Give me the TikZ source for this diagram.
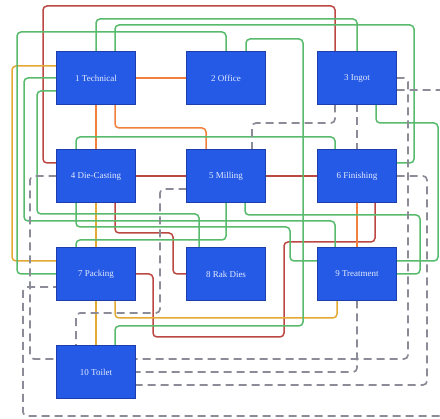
\documentclass[tikz,border=0pt]{standalone}
\usepackage{fontspec}
\setmainfont{Liberation Serif}
\usetikzlibrary{positioning,backgrounds}

\definecolor{boxblue}{RGB}{36,90,230}
\definecolor{boxedge}{RGB}{30,62,172}
\definecolor{lnred}{RGB}{188,72,68}
\definecolor{lnorange}{RGB}{240,128,60}
\definecolor{lnyellow}{RGB}{228,168,52}
\definecolor{lngreen}{RGB}{88,186,108}
\definecolor{lngray}{RGB}{140,140,152}

\begin{document}
\begin{tikzpicture}[
  x=1pt, y=-1pt,
  font=\fontsize{9}{11}\selectfont,
  room/.style={draw=boxedge, fill=boxblue, line width=0.8pt, text=white!88!boxblue,
               minimum width=79pt, minimum height=53pt, inner sep=0pt, outer sep=0pt},
  link/.style={line width=1.5pt, rounded corners=4pt},
  rd/.style={link, draw=lnred}, og/.style={link, draw=lnorange},
  yl/.style={link, draw=lnyellow}, gn/.style={link, draw=lngreen},
  walk/.style={link, line width=1.7pt, draw=lngray, dash pattern=on 8pt off 5pt},
]
\useasboundingbox (0,0) rectangle (440,419);
% rooms
\node[room] (n1) at (96,78) {1 Technical};
\node[room, right=51pt of n1] (n2) {2 Office};
\node[room, right=52pt of n2] (n3) {3 Ingot};
\node[room, below=45pt of n1] (n4) {4 Die-Casting};
\node[room, below=45pt of n2] (n5) {5 Milling};
\node[room, below=45pt of n3] (n6) {6 Finishing};
\node[room, below=45pt of n4] (n7) {7 Packing};
\node[room, below=45pt of n5] (n8) {8 Rak Dies};
\node[room, below=45pt of n6] (n9) {9 Treatment};
\node[room, below=45pt of n7] (n10) {10 Toilet};

\begin{scope}[on background layer]
\fill[white] (0,0) rectangle (440,419);
\clip (0,0) rectangle (440,419);
% red
\draw[rd] ([xshift=-22pt]n3.north) |- (43,6) |- ([yshift=13pt]n4.west);
\draw[rd] (n4.east) -- (n5.west);
\draw[rd] (n5.east) -- (n6.west);
\draw[rd] ([xshift=19pt]n4.south) |- (173,233) |- (n8.west);
\draw[rd] (n7.east) -| (153,337) -| (284,242) -| ([xshift=18pt]n6.south);
% orange
\draw[og] (n1.east) -- (n2.west);
\draw[og] (n1.south) -- (n4.north);
\draw[og] ([xshift=19pt]n1.south) |- (150,128) -| ([xshift=-20pt]n5.north);
\draw[og] (n6.south) -- (n9.north);
% yellow
\draw[yl] ([yshift=12pt]n1.west) -| (12,200) |- ([yshift=13pt]n7.west);
\draw[yl] (n4.south) -- (n7.north);
\draw[yl] (n7.south) -- (n10.north);
\draw[yl] ([xshift=19pt]n7.south) |- (200,318) -| ([xshift=-20pt]n9.south);
% green
\draw[gn] (n1.north) |- (200,19) -| (n3.north);
\draw[gn] ([xshift=19pt]n1.north) |- (414,25) |- ([yshift=13pt]n6.east);
\draw[gn] (n2.north) |- (17,32) |- (n7.west);
\draw[gn] ([xshift=20pt]n2.north) |- (303,39) |- (200,326) -| ([xshift=19pt]n10.north);
\draw[gn] ([yshift=-13pt]n1.west) -| (37,214) -| ([xshift=-27pt]n8.north);
\draw[gn] (n1.west) -| (24,221) -| ([xshift=-22pt]n9.north);
\draw[gn] ([xshift=-20pt]n4.north) |- (200,137) -| ([xshift=-22pt]n6.north);
\draw[gn] ([xshift=-20pt]n4.south) |- (290,227) |- ([yshift=13pt]n9.west);
\draw[gn] (n5.south) |- (150,240) -| ([xshift=-20pt]n7.north);
\draw[gn] ([xshift=19pt]n5.south) |- (420,215) |- (n9.east);
\draw[gn] ([xshift=19pt]n3.south) |- (438,123) |- ([yshift=13pt]n9.east);
% dashed
\draw[walk] (n3.south) -- (n6.north);
\draw[walk] ([xshift=-22pt]n3.south) |- (300,123) -| ([xshift=26pt]n5.north);
\draw[walk] (n3.east) -| (408,300) |- ([yshift=13pt]n10.east);
\draw[walk] (n9.south) |- (n10.east);
\draw[walk] (n6.east) -| (427,300) |- ([yshift=-13pt]n10.east);
\draw[walk] (n4.west) -| (30,300) |- ([yshift=13pt]n10.west);
\draw[walk] ([yshift=-13pt]n5.west) -| (160,313) -| ([xshift=-20pt]n10.north);
\draw[walk] ([yshift=-12pt]n3.east) -| (452,416) -| (23,300) |- ([yshift=-13pt]n7.west);
\end{scope}
\end{tikzpicture}
\end{document}
